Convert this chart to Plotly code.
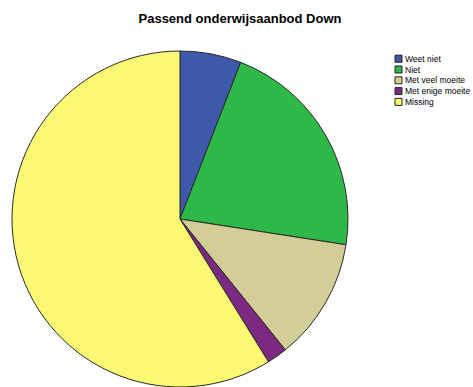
import plotly.graph_objects as go

labels = ["Weet niet", "Niet", "Met veel moeite", "Met enige moeite", "Missing"]
counts = [3, 11, 6, 1, 30]
colors = ["#3e58ac", "#2eb848", "#d3ce97", "#7b2981", "#fbf873"]

W, H = 473, 387
cx, cy, r = 180, 219, 168

fig = go.Figure(go.Pie(
    labels=labels, values=counts, sort=False, direction="clockwise", rotation=0,
    marker=dict(colors=colors, line=dict(color="#2a2a2a", width=1)),
    textinfo="none", hoverinfo="label+value+percent", showlegend=False,
    domain=dict(x=[(cx - r) / W, (cx + r) / W], y=[(H - cy - r) / H, (H - cy + r) / H]),
))

# custom compact legend (SPSS style)
leg_x0, leg_y0, step, sw = 395, 58.7, 10.8, 7
shapes, annotations = [], []
for i, (lab, col) in enumerate(zip(labels, colors)):
    yc = leg_y0 + i * step
    shapes.append(dict(type="rect", xref="paper", yref="paper",
                       x0=leg_x0 / W, x1=(leg_x0 + sw) / W,
                       y0=1 - (yc + sw / 2) / H, y1=1 - (yc - sw / 2) / H,
                       fillcolor=col, line=dict(color="#222222", width=1)))
    annotations.append(dict(text=lab, xref="paper", yref="paper",
                            x=(leg_x0 + sw + 1) / W, y=1 - yc / H,
                            xanchor="left", yanchor="middle", showarrow=False,
                            font=dict(family="Liberation Sans, Arial", size=8.5, color="black")))

fig.update_layout(
    width=W, height=H,
    margin=dict(l=0, r=0, t=0, b=0),
    paper_bgcolor="white", plot_bgcolor="white",
    title=dict(text="<b>Passend onderwijsaanbod Down</b>", x=240 / W, xanchor="center",
               y=1 - 18 / H, yanchor="middle",
               font=dict(family="Liberation Sans, Arial", size=13, color="black")),
    shapes=shapes, annotations=annotations,
)

fig.write_html("out.html")
